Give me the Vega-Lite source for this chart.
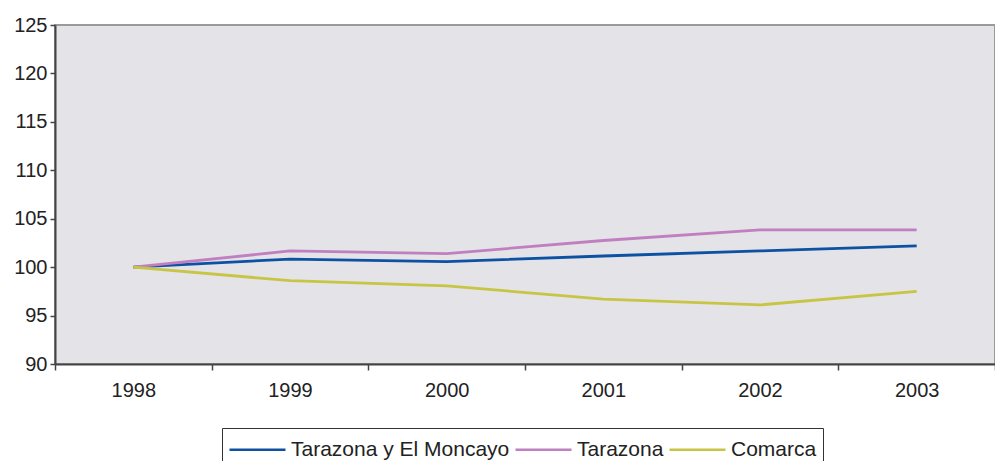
{
  "$schema": "https://vega.github.io/schema/vega-lite/v6.json",
  "width": 940,
  "height": 339,
  "autosize": {"type": "none"},
  "padding": {"left": 55, "top": 25, "right": 0, "bottom": 97},
  "background": "white",
  "config": {
    "font": "Liberation Sans",
    "view": {"fill": "#e4e3e8", "stroke": "#9a9a9a", "strokeWidth": 2}
  },
  "data": {
    "values": [
      {"year": "1998", "serie": "Tarazona y El Moncayo", "valor": 100},
      {"year": "1999", "serie": "Tarazona y El Moncayo", "valor": 100.83},
      {"year": "2000", "serie": "Tarazona y El Moncayo", "valor": 100.58},
      {"year": "2001", "serie": "Tarazona y El Moncayo", "valor": 101.15},
      {"year": "2002", "serie": "Tarazona y El Moncayo", "valor": 101.67},
      {"year": "2003", "serie": "Tarazona y El Moncayo", "valor": 102.2},
      {"year": "1998", "serie": "Tarazona", "valor": 100},
      {"year": "1999", "serie": "Tarazona", "valor": 101.67},
      {"year": "2000", "serie": "Tarazona", "valor": 101.4},
      {"year": "2001", "serie": "Tarazona", "valor": 102.75},
      {"year": "2002", "serie": "Tarazona", "valor": 103.85},
      {"year": "2003", "serie": "Tarazona", "valor": 103.85},
      {"year": "1998", "serie": "Comarca", "valor": 100},
      {"year": "1999", "serie": "Comarca", "valor": 98.6},
      {"year": "2000", "serie": "Comarca", "valor": 98.07},
      {"year": "2001", "serie": "Comarca", "valor": 96.7},
      {"year": "2002", "serie": "Comarca", "valor": 96.1},
      {"year": "2003", "serie": "Comarca", "valor": 97.5}
    ]
  },
  "mark": {"type": "line", "strokeWidth": 2.8},
  "encoding": {
    "x": {
      "field": "year",
      "type": "ordinal",
      "bandPosition": 0.5,
      "scale": {"type": "band", "paddingInner": 0, "paddingOuter": 0},
      "axis": {
        "title": null,
        "labelAngle": 0,
        "tickBand": "extent",
        "domainColor": "#444444",
        "domainWidth": 2,
        "tickColor": "#444444",
        "tickWidth": 1.5,
        "tickSize": 6,
        "labelPadding": 10,
        "labelFontSize": 20,
        "labelColor": "#222222",
        "grid": false
      }
    },
    "y": {
      "field": "valor",
      "type": "quantitative",
      "scale": {"domain": [90, 125], "nice": false, "zero": false},
      "axis": {
        "title": null,
        "values": [90, 95, 100, 105, 110, 115, 120, 125],
        "domainColor": "#444444",
        "domainWidth": 2,
        "tickColor": "#444444",
        "tickWidth": 1.5,
        "tickSize": 5,
        "labelPadding": 3,
        "labelFontSize": 20,
        "labelColor": "#222222",
        "grid": false
      }
    },
    "color": {
      "field": "serie",
      "type": "nominal",
      "scale": {
        "domain": ["Tarazona y El Moncayo", "Tarazona", "Comarca"],
        "range": ["#0d51a3", "#c080c0", "#c8c544"]
      },
      "legend": {
        "title": null,
        "orient": "none",
        "legendX": 167,
        "legendY": 403,
        "direction": "horizontal",
        "columns": 3,
        "symbolType": "M-1,0H3",
        "symbolSize": 784,
        "symbolStrokeWidth": 2.5,
        "labelFontSize": 21,
        "labelLimit": 400,
        "labelColor": "#222222",
        "labelOffset": 32,
        "columnPadding": 0,
        "strokeColor": "#333333",
        "padding": 6
      }
    }
  }
}
